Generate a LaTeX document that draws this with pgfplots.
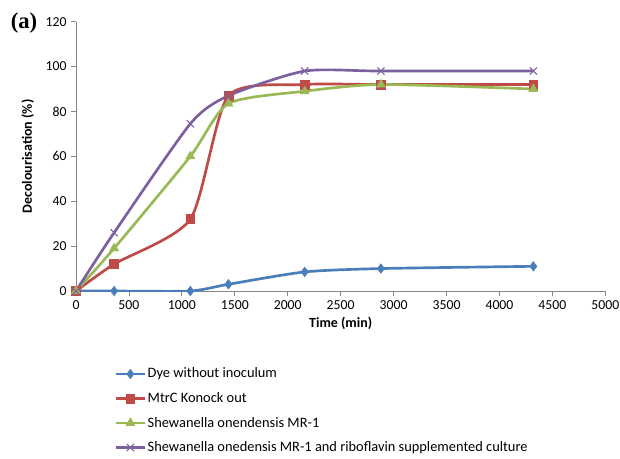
\documentclass[border=0pt]{standalone}
\usepackage{pgfplots}
\pgfplotsset{compat=1.18}
\usepackage{fontspec}
\setmainfont{Carlito}
\newfontfamily\serifbold{Liberation Serif}
\definecolor{cblue}{RGB}{74,126,187}
\definecolor{cred}{RGB}{190,75,72}
\definecolor{cgreen}{RGB}{152,185,84}
\definecolor{cpurple}{RGB}{125,96,160}
\definecolor{axgray}{RGB}{134,134,134}
\begin{document}
\begin{tikzpicture}
\path (-57pt,-121.5pt) rectangle (408pt,218.25pt);
\node[font=\serifbold\bfseries\fontsize{17}{19}\selectfont, anchor=center] at (-39pt,201pt) {(a)};
\begin{axis}[
  at={(0,0)}, anchor=south west,
  scale only axis, width=397pt, height=202pt,
  xmin=0, xmax=5000, ymin=0, ymax=120,
  xtick={0,500,...,5000}, ytick={0,20,...,120},
  axis x line*=bottom, axis y line*=left,
  axis line style={axgray, line width=0.6pt, -},
  tick style={axgray, line width=0.6pt},
  tick align=outside, major tick length=3.5pt,
  /pgf/number format/assume math mode=true,
  /pgf/number format/set thousands separator={},
  tick label style={font=\fontsize{10.3}{12}\selectfont, black},
  xticklabel style={inner xsep=0pt},
  xlabel={\bfseries Time (min)}, ylabel={\bfseries Decolourisation (\%)},
  label style={font=\fontsize{10.5}{12}\selectfont},
  xlabel style={yshift=1pt},
  ylabel style={yshift=2pt},
  legend style={at={(0.072,-0.265)}, anchor=north west, draw=none, fill=none,
    font=\fontsize{10.8}{12}\selectfont, row sep=5.4pt, legend cell align=left,
    inner xsep=0pt, nodes={inner xsep=1pt}},
  legend image code/.code={\draw[#1] (0pt,0pt) -- (22pt,0pt); \draw[#1, mark repeat=2, mark phase=2] plot coordinates {(0pt,0pt) (11pt,0pt) (22pt,0pt)};},
]
\addplot[cblue, line width=2pt, smooth, tension=0.4, mark=diamond*, mark size=3.5pt, mark options={solid, fill=cblue, line width=0.5pt}]
  coordinates {(0,0) (360,0) (1080,0) (1440,3) (2160,8.5) (2880,10) (4320,11)};
\addlegendentry{Dye without inoculum}
\addplot[cred, line width=2pt, smooth, tension=0.4, mark=square*, mark size=3.3pt, mark options={solid, fill=cred, line width=0.5pt}]
  coordinates {(0,0) (360,12) (1080,32) (1440,87) (2160,92) (2880,92) (4320,92)};
\addlegendentry{MtrC Konock out}
\addplot[cgreen, line width=2pt, smooth, tension=0.4, mark=triangle*, mark size=3.8pt, mark options={solid, fill=cgreen, line width=0.5pt}]
  coordinates {(0,0) (360,19) (1080,60) (1440,83.5) (2160,89) (2880,92) (4320,90)};
\addlegendentry{Shewanella onendensis MR-1}
\addplot[cpurple, line width=2pt, smooth, tension=0.4, mark=x, mark size=3.8pt, mark options={solid, line width=0.8pt}]
  coordinates {(0,0) (360,26) (1080,74.5) (1440,87) (2160,98) (2880,98) (4320,98)};
\addlegendentry{Shewanella onedensis MR-1 and riboflavin supplemented culture}
\end{axis}
\end{tikzpicture}
\end{document}
